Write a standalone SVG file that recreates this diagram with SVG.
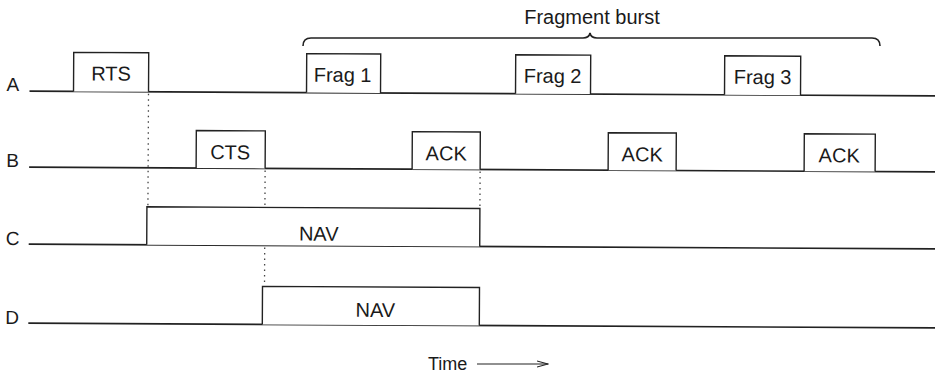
<svg xmlns="http://www.w3.org/2000/svg" width="935" height="376" viewBox="0 0 935 376">
<defs>
<style>
.bg{fill:#ffffff}
.line{stroke:#222;stroke-width:1.6;fill:none}
.box{stroke:#222;stroke-width:1.4;fill:#ffffff}
.dot{stroke:#444;stroke-width:1.3;stroke-dasharray:1.5 4;fill:none}
.t{font-family:"Liberation Sans",Arial,sans-serif;font-size:20px;fill:#1a1a1a;text-anchor:middle}
.lab{font-family:"Liberation Sans",Arial,sans-serif;font-size:19px;fill:#1a1a1a}
</style>
<marker id="arr" markerWidth="12" markerHeight="8" refX="11" refY="4" orient="auto" markerUnits="userSpaceOnUse">
<path d="M0,1 L11,4 L0,7" fill="none" stroke="#222" stroke-width="1.2"/>
</marker>
</defs>
<rect class="bg" x="0" y="0" width="935" height="376"/>
<g id="brace">
<path class="line" d="M303,46 Q303,38 311,38 L583,38 Q589,38 590,33 Q591,38 597,38 L872,38 Q880,38 880,46"/>
<text class="t" x="592" y="24">Fragment burst</text>
</g>
<g transform="rotate(0.3)">
<g id="timelines">
<line class="line" x1="30" y1="91" x2="945" y2="91"/>
<line class="line" x1="30" y1="167" x2="945" y2="167"/>
<line class="line" x1="30" y1="244" x2="945" y2="244"/>
<line class="line" x1="30" y1="323" x2="945" y2="323"/>
<text class="lab" x="7" y="91">A</text>
<text class="lab" x="7" y="167">B</text>
<text class="lab" x="7" y="245">C</text>
<text class="lab" x="7" y="324">D</text>
</g>
<g id="connectors">
<line class="dot" x1="149" y1="93" x2="149" y2="205"/>
<line class="dot" x1="266" y1="169" x2="266" y2="284"/>
<line class="dot" x1="481" y1="169" x2="481" y2="205"/>
</g>
<g id="rts"><path class="box" d="M74,91 V52 H149 V91"/><text class="t" x="111.5" y="80">RTS</text></g>
<g id="frag1"><path class="box" d="M307,91 V52 H381 V91"/><text class="t" x="343" y="80">Frag 1</text></g>
<g id="frag2"><path class="box" d="M516,91 V52 H591 V91"/><text class="t" x="553" y="80">Frag 2</text></g>
<g id="frag3"><path class="box" d="M725,91 V52 H801 V91"/><text class="t" x="763" y="80">Frag 3</text></g>
<g id="cts"><path class="box" d="M197,167 V129.5 H266 V167"/><text class="t" x="231" y="158">CTS</text></g>
<g id="ack1"><path class="box" d="M413,167 V129.5 H481 V167"/><text class="t" x="447" y="158">ACK</text></g>
<g id="ack2"><path class="box" d="M609,167 V129.5 H677 V167"/><text class="t" x="643" y="158">ACK</text></g>
<g id="ack3"><path class="box" d="M805,167 V129.5 H876 V167"/><text class="t" x="840" y="158">ACK</text></g>
<g id="navC"><path class="box" d="M148,244 V206 H481 V244"/><text class="t" x="320" y="239">NAV</text></g>
<g id="navD"><path class="box" d="M264,323 V285 H481 V323"/><text class="t" x="377" y="315">NAV</text></g>
</g>
<g id="time">
<text class="lab" x="428" y="370" style="font-size:18px">Time</text>
<line class="line" x1="477" y1="364" x2="548" y2="364" marker-end="url(#arr)" style="stroke-width:1.2"/>
</g>
</svg>
